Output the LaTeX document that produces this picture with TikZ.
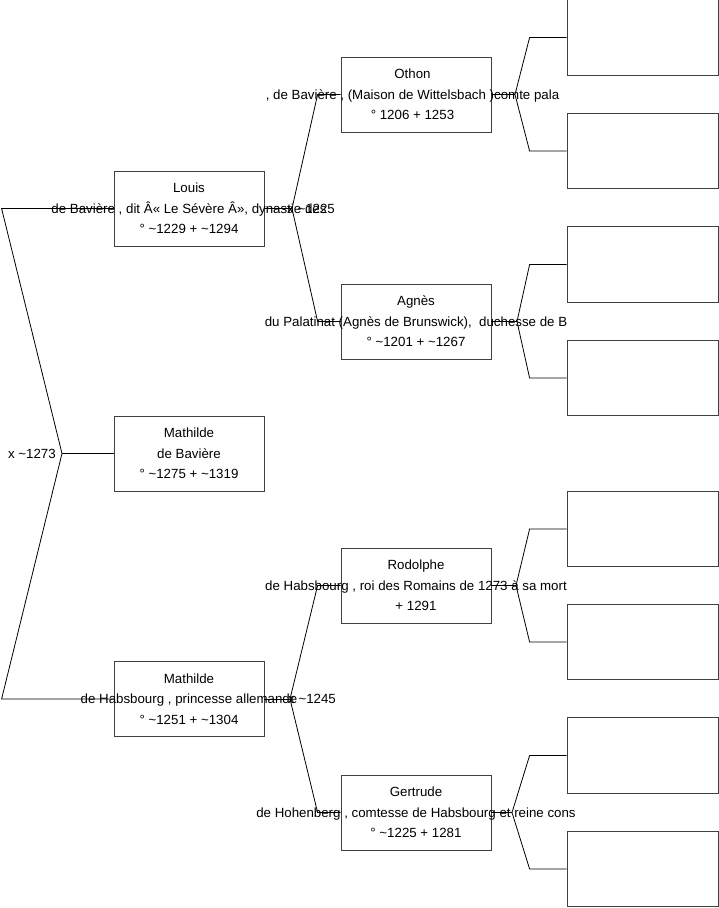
\documentclass[tikz,border=0pt]{standalone}
\usepackage{fontspec}
\setmainfont{Liberation Sans}
\usetikzlibrary{positioning}

\begin{document}
\begin{tikzpicture}[x=1pt, y=-1pt]

% Define block styles
\tikzstyle{personbox} = [rectangle, draw=black!75, line width=0.8pt, minimum width=150pt, minimum height=75pt, inner sep=0pt]
\tikzstyle{leafbox} = [personbox, minimum width=151pt, minimum height=75.5pt]
\tikzstyle{persontext} = [align=center, font=\fontsize{13.3}{20.5}\selectfont, inner sep=0pt]
\tikzstyle{mariage} = [font=\fontsize{13.3}{15}\selectfont, inner sep=0pt]
\tikzstyle{link} = [black, line width=0.8pt]

\useasboundingbox (0,0) rectangle (719,908);

% Nodes
\node (louis) [personbox] at (189,208.5) {};
\node (mathb) [personbox] at (189,453.5) {};
\node (mathh) [personbox] at (189,699) {};
\node (othon) [personbox] at (416,94.5) {};
\node (agnes) [personbox] at (416,321.5) {};
\node (rodolphe) [personbox] at (416,585.5) {};
\node (gertrude) [personbox] at (416,812.5) {};
\node (leafa) [leafbox] at (642.5,37.5) {};
\node (leafb) [leafbox] at (642.5,151) {};
\node (leafc) [leafbox] at (642.5,264.5) {};
\node (leafd) [leafbox] at (642.5,378) {};
\node (leafe) [leafbox] at (642.5,529) {};
\node (leaff) [leafbox] at (642.5,642) {};
\node (leafg) [leafbox] at (642.5,755.5) {};
\node (leafh) [leafbox] at (642.5,869) {};

% Texts
\node (louistext) [persontext] at (louis) {Louis\\de Bavière , dit Â« Le Sévère Â», dynastie des\\° \textasciitilde1229 + \textasciitilde1294};
\node (mathbtext) [persontext] at (mathb) {Mathilde\\de Bavière\\° \textasciitilde1275 + \textasciitilde1319};
\node (mathhtext) [persontext] at (mathh) {Mathilde\\de Habsbourg , princesse allemande\\° \textasciitilde1251 + \textasciitilde1304};
\node (othontext) [persontext] at ([xshift=-3.5pt]othon.center) {Othon\\, de Bavière , (Maison de Wittelsbach )comte pala\\° 1206 + 1253};
\node (agnestext) [persontext] at (agnes) {Agnès\\du Palatinat (Agnès de Brunswick),~ duchesse de B\\° \textasciitilde1201 + \textasciitilde1267};
\node (rodolphetext) [persontext] at (rodolphe) {Rodolphe\\de Habsbourg , roi des Romains de 1273 à sa mort\\+ 1291};
\node (gertrudetext) [persontext] at (gertrude) {Gertrude\\de Hohenberg , comtesse de Habsbourg et reine cons\\° \textasciitilde1225 + 1281};

% Forks
\coordinate (vroot) at (62,453.5);
\coordinate (vlouis) at (292,208.5);
\coordinate (vmathh) at (290,699);
\coordinate (vothon) at (515,94.5);
\coordinate (vagnes) at (517,321.5);
\coordinate (vrodolphe) at (516,585.5);
\coordinate (vgertrude) at (512,812.5);

% Marriages
\node (mroot) [mariage, anchor=east] at (56,453.5) {x \textasciitilde1273};
\node (mlouis) [mariage, anchor=west] at (287,208.5) {x \textasciitilde1225};
\node (mmathh) [mariage, anchor=west] at (288,699) {x \textasciitilde1245};

% Arrows
\draw [link] (mathb.west) -- (vroot);
\draw [link] (vroot) -- ([xshift=-112pt]louis.west) -- (louis.west);
\draw [link] (vroot) -- ([xshift=-112pt]mathh.west) -- (mathh.west);

\draw [link] (louis.east) -- (vlouis);
\draw [link] (vlouis) -- ([xshift=-23pt]othon.west) -- (othon.west);
\draw [link] (vlouis) -- ([xshift=-23pt]agnes.west) -- (agnes.west);

\draw [link] (mathh.east) -- (vmathh);
\draw [link] (vmathh) -- ([xshift=-23pt]rodolphe.west) -- (rodolphe.west);
\draw [link] (vmathh) -- ([xshift=-23pt]gertrude.west) -- (gertrude.west);

\draw [link] (othon.east) -- (vothon);
\draw [link] (vothon) -- ([xshift=-37pt]leafa.west) -- (leafa.west);
\draw [link] (vothon) -- ([xshift=-37pt]leafb.west) -- (leafb.west);

\draw [link] (agnes.east) -- (vagnes);
\draw [link] (vagnes) -- ([xshift=-37pt]leafc.west) -- (leafc.west);
\draw [link] (vagnes) -- ([xshift=-37pt]leafd.west) -- (leafd.west);

\draw [link] (rodolphe.east) -- (vrodolphe);
\draw [link] (vrodolphe) -- ([xshift=-37pt]leafe.west) -- (leafe.west);
\draw [link] (vrodolphe) -- ([xshift=-37pt]leaff.west) -- (leaff.west);

\draw [link] (gertrude.east) -- (vgertrude);
\draw [link] (vgertrude) -- ([xshift=-37pt]leafg.west) -- (leafg.west);
\draw [link] (vgertrude) -- ([xshift=-37pt]leafh.west) -- (leafh.west);

\end{tikzpicture}
\end{document}
